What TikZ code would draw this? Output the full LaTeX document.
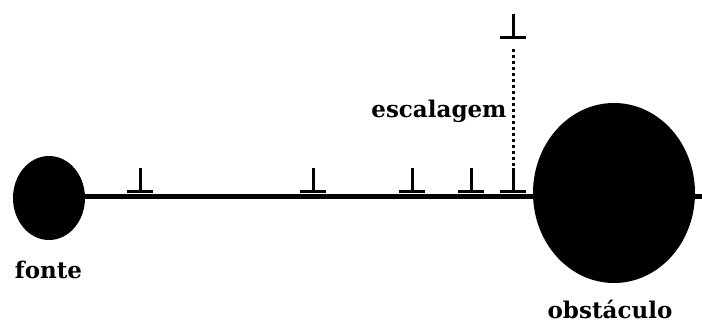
\documentclass[tikz,border=0pt]{standalone}
\usepackage{fontspec}
\setmainfont{DejaVu Serif}
\begin{document}
\begin{tikzpicture}[x=1pt,y=-1pt,
  body/.style={fill=black,draw=none},
  rail/.style={line width=5pt},
  tick/.style={line width=3pt},
  lbl/.style={font=\bfseries\fontsize{23}{23}\selectfont,inner sep=0pt,anchor=base}]
\useasboundingbox (0,0) rectangle (702,324);
% source and obstacle
\fill[body] (49,198) ellipse [x radius=36, y radius=42];
\fill[body] (614,193) ellipse [x radius=81, y radius=90];
\coordinate (src) at (49,196.5);
\coordinate (end) at (702,196.5);
\draw[rail] (src) -- (end);
% inverted-T markers along the ray
\foreach \x/\n in {140/a,313/b,412/c,471/d,513/e}{
  \coordinate (t\n) at (\x,168);
  \coordinate (b\n) at (\x,191);
  \draw[tick] (t\n) -- (b\n);
  \draw[tick] ([xshift=-13pt]b\n) -- ([xshift=13pt]b\n);
}
% raised marker
\coordinate (tt) at (513,14);
\coordinate (bt) at (513,37);
\draw[tick] (tt) -- (bt);
\draw[tick] ([xshift=-13pt]bt) -- ([xshift=13pt]bt);
\draw[line width=3pt,dash pattern=on 3pt off 3pt] (513,49) -- (te);
\node[lbl] (esc) at (439,117) {escalagem};
\node[lbl] (fonte) at (48.5,278) {fonte};
\node[lbl] (obst) at (610,318) {obstáculo};
\end{tikzpicture}
\end{document}
